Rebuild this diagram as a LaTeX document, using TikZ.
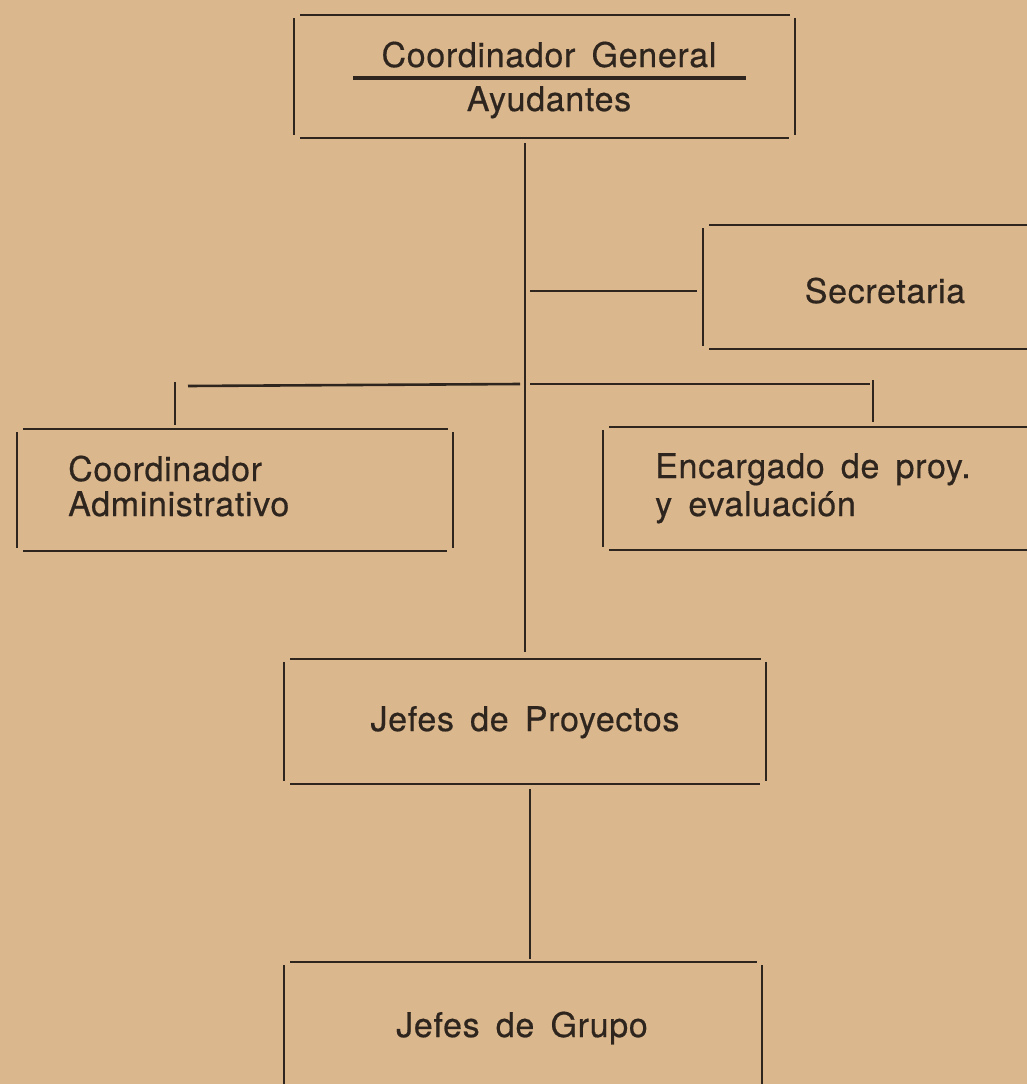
\documentclass[tikz,border=0pt]{standalone}
\usepackage{fontspec}
\setmainfont{TeX Gyre Heros}[LetterSpace=2,WordSpace=1.6,FakeBold=0.5]
\usetikzlibrary{calc}
\definecolor{paper}{RGB}{219,183,141}
\definecolor{ink}{RGB}{46,38,30}
\newcommand\orgframe[1]{%
  \draw[ln] ($(#1.north west)+(6,0)$) -- ($(#1.north east)+(-5,0)$);
  \draw[ln] ($(#1.south west)+(6,0)$) -- ($(#1.south east)+(-6,0)$);
  \draw[ln] ($(#1.north west)+(0,3)$) -- ($(#1.south west)+(0,-3)$);
  \draw[ln] ($(#1.north east)+(0,3)$) -- ($(#1.south east)+(0,-3)$);
}
\begin{document}
\begin{tikzpicture}[x=1pt,y=-1pt,
  ln/.style={draw=ink,line width=2.6pt},
  area/.style={draw=none,inner sep=0pt,outer sep=0pt,rectangle},
  lbl/.style={text=ink,inner sep=0pt,font=\fontsize{34}{38}\selectfont}]
\useasboundingbox (0,0) rectangle (1027,1084);
\fill[paper] (0,0) rectangle (1027,1084);
\clip (0,0) rectangle (1027,1084);

% box areas
\node[area,minimum width=501pt,minimum height=123pt] (cg) at (544.5,76.5) {};
\node[area,minimum width=357pt,minimum height=124pt] (sec) at (881.5,287) {};
\node[area,minimum width=436pt,minimum height=122pt] (ca) at (235,490) {};
\node[area,minimum width=457pt,minimum height=123pt] (ep) at (831.5,488.5) {};
\node[area,minimum width=482pt,minimum height=125pt] (jp) at (525,721.5) {};
\node[area,minimum width=478pt,minimum height=138pt] (jg) at (523,1031) {};

\orgframe{cg}
\orgframe{sec}
\orgframe{ca}
\orgframe{ep}
\orgframe{jp}
\orgframe{jg}

% texts
\node[lbl,anchor=base] (cgt) at (549,67) {Coordinador General};
\node[lbl,anchor=base] (cga) at (549,111) {Ayudantes};
\draw[draw=ink,line width=4.5pt] (353,78) -- (746,78);
\node[lbl,anchor=base] (sect) at (885,303) {Secretaria};
\node[lbl,anchor=base west] (cat) at (68,481) {Coordinador};
\node[lbl,anchor=base west] (cat2) at (68,516) {Administrativo};
\node[lbl,anchor=base west] (ept) at (655,478) {Encargado de proy.};
\node[lbl,anchor=base west] (ept2) at (655,516) {y evaluación};
\node[lbl,anchor=base] (jpt) at (525,731) {Jefes de Proyectos};
\node[lbl,anchor=base] (jgt) at (522,1037) {Jefes de Grupo};

% connectors
\coordinate (dl) at (175,384);
\coordinate (dr) at (873,384);
\draw[ln] ($(cg.south -| jp.north)+(0,5)$) -- ($(jp.north)+(0,-7)$);
\draw[ln] ($(sec.west -| jp.north)+(5,4)$) -- ($(sec.west)+(-6,4)$);
\draw[ln] ($(dl)+(13,2)$) -- ($(dl -| jp.north)+(-5,0)$);
\draw[ln] ($(dl -| jp.north)+(5,0)$) -- ($(dr)+(-3,0)$);
\draw[ln] ($(dl)+(0,-2)$) -- ($(dl |- ca.north)+(0,-4)$);
\draw[ln] ($(dr)+(0,-4)$) -- ($(dr |- ep.north)+(0,-5)$);
\draw[ln] ($(jp.south)+(5,5)$) -- ($(jg.north)+(7,-3)$);
\end{tikzpicture}
\end{document}
